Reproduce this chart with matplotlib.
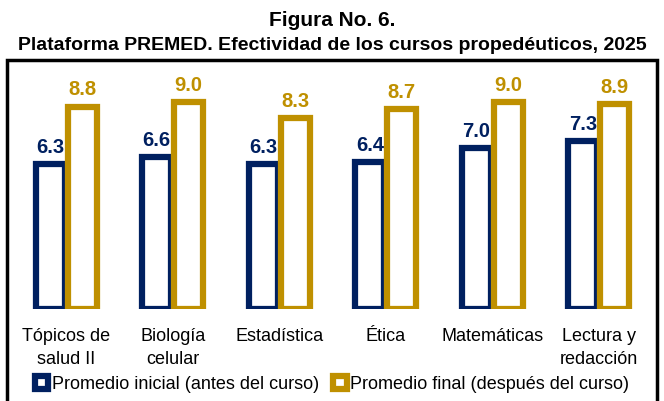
import matplotlib.pyplot as plt
from matplotlib.patches import Rectangle
from matplotlib.font_manager import fontManager
import numpy as np

# font: narrow sans if available
names = set(f.name for f in fontManager.ttflist)
narrow = 'Liberation Sans Narrow' if 'Liberation Sans Narrow' in names else 'Liberation Sans'
plt.rcParams['font.family'] = [narrow, 'DejaVu Sans']

# data
cursos = ['Tópicos de\nsalud II', 'Biología\ncelular', 'Estadística', 'Ética',
          'Matemáticas', 'Lectura y\nredacción']
inicial = [6.3, 6.6, 6.3, 6.4, 7.0, 7.3]
final = [8.8, 9.0, 8.3, 8.7, 9.0, 8.9]
serie_labels = ['Promedio inicial (antes del curso)', 'Promedio final (después del curso)']

navy = '#002060'
gold = '#BF9000'

fig = plt.figure(figsize=(6.64, 4.02), dpi=100)
W, H = 664, 402

# outer frame
fig.patches.append(Rectangle((7 / W, -0.05), 650 / W, (H - 61) / H + 0.05,
                             transform=fig.transFigure, fill=False,
                             edgecolor='black', linewidth=2.5))

ax = fig.add_axes([13 / W, 92 / H, 639 / W, 248 / H])
x = np.arange(len(cursos))
w = 0.27
b1 = ax.bar(x - w / 2 - 0.015, inicial, w, facecolor='white', edgecolor=navy, linewidth=4.5,
            label=serie_labels[0])
b2 = ax.bar(x + w / 2 + 0.015, final, w, facecolor='white', edgecolor=gold, linewidth=4.5,
            label=serie_labels[1])

for bars, vals, c in [(b1, inicial, navy), (b2, final, gold)]:
    for r, v in zip(bars, vals):
        ax.text(r.get_x() + r.get_width() / 2, v + 0.36, f'{v:.1f}', ha='center', va='bottom',
                color=c, fontsize=14.5, fontweight='bold')

ax.set_xlim(-0.5, len(cursos) - 0.5)
ax.set_ylim(0, 248 / 23)
ax.set_xticks(x)
ax.set_xticklabels(cursos, fontsize=13, linespacing=1.45)
ax.tick_params(axis='x', length=0, pad=13)
ax.set_yticks([])
for s in ax.spines.values():
    s.set_visible(False)

leg = fig.legend(loc='center', bbox_to_anchor=(0.5, 17 / H), ncol=2, frameon=False,
                 fontsize=13, handlelength=0.75, handleheight=0.75, handletextpad=0.2,
                 columnspacing=0.8, borderpad=0)
for h in leg.legend_handles:
    h.set_linewidth(4.5)

fig.text(0.5, 1 - 21 / H, 'Figura No. 6.', ha='center', va='center', fontsize=15,
         fontweight='bold')
fig.text(0.5, 1 - 45 / H, 'Plataforma PREMED. Efectividad de los cursos propedéuticos, 2025',
         ha='center', va='center', fontsize=14, fontweight='bold')

fig.savefig('out.png', dpi=100)
